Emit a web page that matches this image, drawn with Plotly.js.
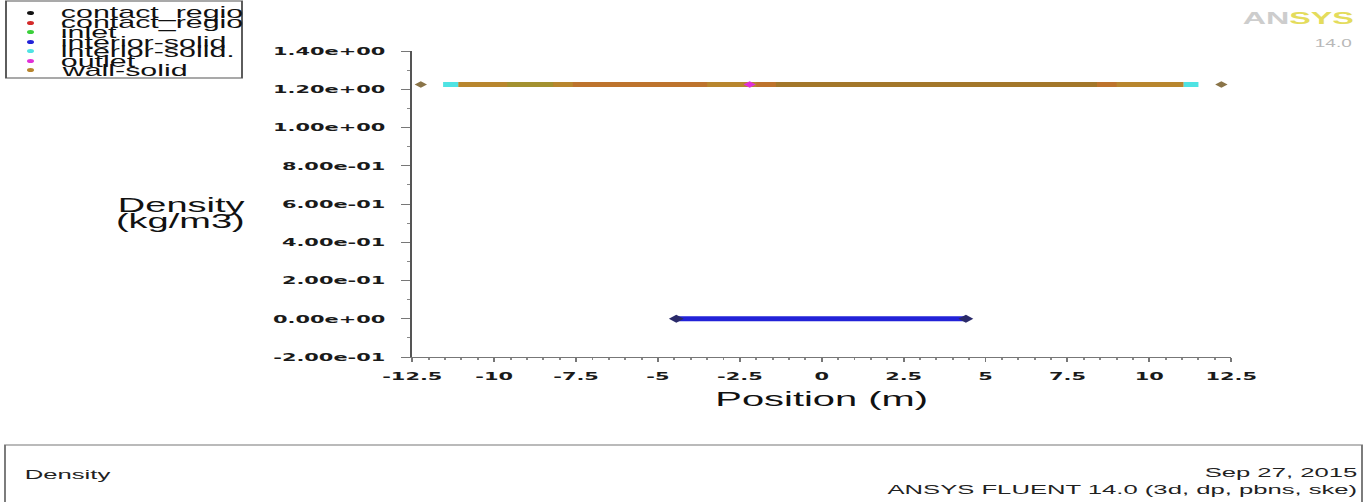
<!DOCTYPE html>
<html>
<head>
<meta charset="utf-8">
<script src="https://cdn.plot.ly/plotly-3.0.1.min.js"></script>
<style>
  html, body { margin:0; padding:0; background:#fff; overflow:hidden; }
  #wrap { width:1366px; height:502px; overflow:hidden; position:relative; }
  #plot { width:719px; height:502px; transform:scaleX(1.9); transform-origin:0 0; }
</style>
</head>
<body>
<div id="wrap"><div id="plot"></div></div>
<script>
// ---------------- data ----------------
const xTickVals = [-12.5, -10, -7.5, -5, -2.5, 0, 2.5, 5, 7.5, 10, 12.5];
const xTickText = ['-12.5', '-10', '-7.5', '-5', '-2.5', '0', '2.5', '5', '7.5', '10', '12.5'];
const yTickVals = [-0.2, 0, 0.2, 0.4, 0.6, 0.8, 1.0, 1.2, 1.4];
const yTickText = ['-2.00e-01', '0.00e+00', '2.00e-01', '4.00e-01', '6.00e-01', '8.00e-01', '1.00e+00', '1.20e+00', '1.40e+00'];

const seriesNames = ['contact_regio', 'contact_regio', 'inlet', 'interior-solid', 'interior-solid.', 'outlet', 'wall-solid'];
const seriesColors = ['#111111', '#d42a2a', '#3ad03a', '#2222d8', '#4fe3e3', '#e030d8', '#b8862e'];

const wallSolidLineX = [-11.1, 11.05];
const wallSolidLineY = [1.225, 1.225];
const wallSolidPointX = [-12.24, 12.2];
const wallSolidPointY = [1.225, 1.225];

const contactRegion1X = [-1.4, 8.4];
const contactRegion1Y = [1.225, 1.225];
const contactRegion2X = [-7.6, -3.5, null, -2.0, -1.4, null, 8.4, 9.0];
const contactRegion2Y = [1.225, 1.225, null, 1.225, 1.225, null, 1.225, 1.225];
const inletX = [-9.6, -8.2];
const inletY = [1.225, 1.225];
const interiorSolidX = [-4.44, 4.4];
const interiorSolidY = [0, 0];
const interiorSolid2X = [-11.56, -11.1, null, 11.05, 11.5];
const interiorSolid2Y = [1.225, 1.225, null, 1.225, 1.225];
const outletX = [-2.2];
const outletY = [1.225];

// ---------------- layout helpers ----------------
const W = 719, H = 502, ML = 217, MR = 71, MT = 51, MB = 145;
const PW = W - ML - MR, PH = H - MT - MB;
const px = p => (p - ML) / PW;
const py = p => 1 - (p - MT) / PH;
const S = 1.9; // horizontal stretch of the page
const rx = p => px(p / S); // reference pixel x -> paper

const traces = [
  { name: seriesNames[6], x: wallSolidLineX, y: wallSolidLineY, mode: 'lines',
    line: { color: seriesColors[6], width: 5 }, hoverinfo: 'skip' },
  { name: seriesNames[6], x: wallSolidPointX, y: wallSolidPointY, mode: 'markers',
    marker: { color: '#8a7448', size: 5, symbol: 'diamond' }, hoverinfo: 'skip' },
  { name: seriesNames[0], x: contactRegion1X, y: contactRegion1Y, mode: 'lines',
    line: { color: seriesColors[0], width: 5 }, opacity: 0.12 },
  { name: seriesNames[1], x: contactRegion2X, y: contactRegion2Y, mode: 'lines',
    line: { color: seriesColors[1], width: 5 }, opacity: 0.2 },
  { name: seriesNames[2], x: inletX, y: inletY, mode: 'lines',
    line: { color: seriesColors[2], width: 5 }, opacity: 0.16 },
  { name: seriesNames[4], x: interiorSolid2X, y: interiorSolid2Y, mode: 'lines',
    line: { color: seriesColors[4], width: 5 } },
  { name: seriesNames[5], x: outletX, y: outletY, mode: 'markers',
    marker: { color: seriesColors[5], size: 5, symbol: 'diamond' } },
  { name: seriesNames[3], x: interiorSolidX, y: interiorSolidY, mode: 'lines+markers',
    line: { color: seriesColors[3], width: 5 },
    marker: { color: '#2a2a6a', size: 6, symbol: 'diamond' } }
];

const fontFam = 'Liberation Sans, Arial, sans-serif';
const tickFam = 'DejaVu Sans, Verdana, sans-serif';
const shapes = [];
const annotations = [];

// legend box
shapes.push({ type: 'rect', xref: 'paper', yref: 'paper',
  x0: rx(6), x1: rx(242), y0: py(78), y1: py(1),
  line: { color: '#555', width: 1 }, fillcolor: 'rgba(0,0,0,0)' });
const rowY = [13, 23, 32, 42, 51, 61, 70];
seriesNames.forEach((n, i) => {
  shapes.push({ type: 'circle', xref: 'paper', yref: 'paper',
    x0: rx(27), x1: rx(34), y0: py(rowY[i] + 2), y1: py(rowY[i] - 2),
    line: { width: 0 }, fillcolor: seriesColors[i] });
  annotations.push({ xref: 'paper', yref: 'paper', x: rx(57), y: py(rowY[i]),
    xanchor: 'left', yanchor: 'middle', showarrow: false, text: n,
    font: { family: fontFam, size: 16, color: '#111' } });
});

// y title
annotations.push({ xref: 'paper', yref: 'paper', x: rx(182), y: py(205), xanchor: 'center', yanchor: 'middle',
  showarrow: false, text: 'Density', font: { family: fontFam, size: 20, color: '#111' } });
annotations.push({ xref: 'paper', yref: 'paper', x: rx(180), y: py(221), xanchor: 'center', yanchor: 'middle',
  showarrow: false, text: '(kg/m3)', font: { family: fontFam, size: 20, color: '#111' } });

// logo
annotations.push({ xref: 'paper', yref: 'paper', x: rx(1358), y: py(19), xanchor: 'right', yanchor: 'middle',
  showarrow: false, text: '<span style="color:#cdcdcd">AN</span><span style="color:#e4dc5c">SYS</span>',
  font: { family: fontFam, size: 17, color: '#cdcdcd', weight: 'bold' } });
annotations.push({ xref: 'paper', yref: 'paper', x: rx(1356), y: py(43), xanchor: 'right', yanchor: 'middle',
  showarrow: false, text: '14.0', font: { family: fontFam, size: 10, color: '#b8b8b8' } });

// bottom box
shapes.push({ type: 'rect', xref: 'paper', yref: 'paper',
  x0: rx(5), x1: rx(1362), y0: py(510), y1: py(445),
  line: { color: '#777', width: 1 }, fillcolor: 'rgba(0,0,0,0)' });
annotations.push({ xref: 'paper', yref: 'paper', x: rx(20), y: py(474), xanchor: 'left', yanchor: 'middle',
  showarrow: false, text: 'Density', font: { family: fontFam, size: 13.5, color: '#222' } });
annotations.push({ xref: 'paper', yref: 'paper', x: rx(1360), y: py(472), xanchor: 'right', yanchor: 'middle',
  showarrow: false, text: 'Sep 27, 2015', font: { family: fontFam, size: 13.5, color: '#222' } });
annotations.push({ xref: 'paper', yref: 'paper', x: rx(1360), y: py(489), xanchor: 'right', yanchor: 'middle',
  showarrow: false, text: 'ANSYS FLUENT 14.0 (3d, dp, pbns, ske)', font: { family: fontFam, size: 13.5, color: '#222' } });

const tickFont = { family: tickFam, size: 11, color: '#1a1a1a', weight: 'bold' };

const layout = {
  width: W, height: H,
  margin: { l: ML, r: MR, t: MT, b: MB, pad: 0 },
  paper_bgcolor: '#fff', plot_bgcolor: '#fff',
  showlegend: false,
  xaxis: {
    range: [-12.5, 12.5], tickmode: 'array', tickvals: xTickVals, ticktext: xTickText,
    showgrid: false, zeroline: false, showline: true, linecolor: '#777', linewidth: 1,
    ticks: 'outside', ticklen: 4, tickcolor: '#777', tickfont: tickFont, ticklabelstandoff: 5,
    minor: { dtick: 0.5, tick0: -12.5, ticks: 'outside', ticklen: 2, tickcolor: '#888', showgrid: false },
    title: { text: 'Position (m)', font: { family: fontFam, size: 21, color: '#111' }, standoff: 9 },
    fixedrange: true
  },
  yaxis: {
    range: [-0.2, 1.4], tickmode: 'array', tickvals: yTickVals, ticktext: yTickText,
    showgrid: false, zeroline: false, showline: true, linecolor: '#555', linewidth: 1,
    ticks: 'outside', ticklen: 5, tickcolor: '#777', tickfont: tickFont, ticklabelstandoff: 6,
    minor: { dtick: 0.1, tick0: -0.2, ticks: 'outside', ticklen: 2, tickcolor: '#888', showgrid: false },
    fixedrange: true
  },
  shapes: shapes,
  annotations: annotations
};

Plotly.newPlot('plot', traces, layout, { staticPlot: true, displayModeBar: false });
</script>
</body>
</html>
